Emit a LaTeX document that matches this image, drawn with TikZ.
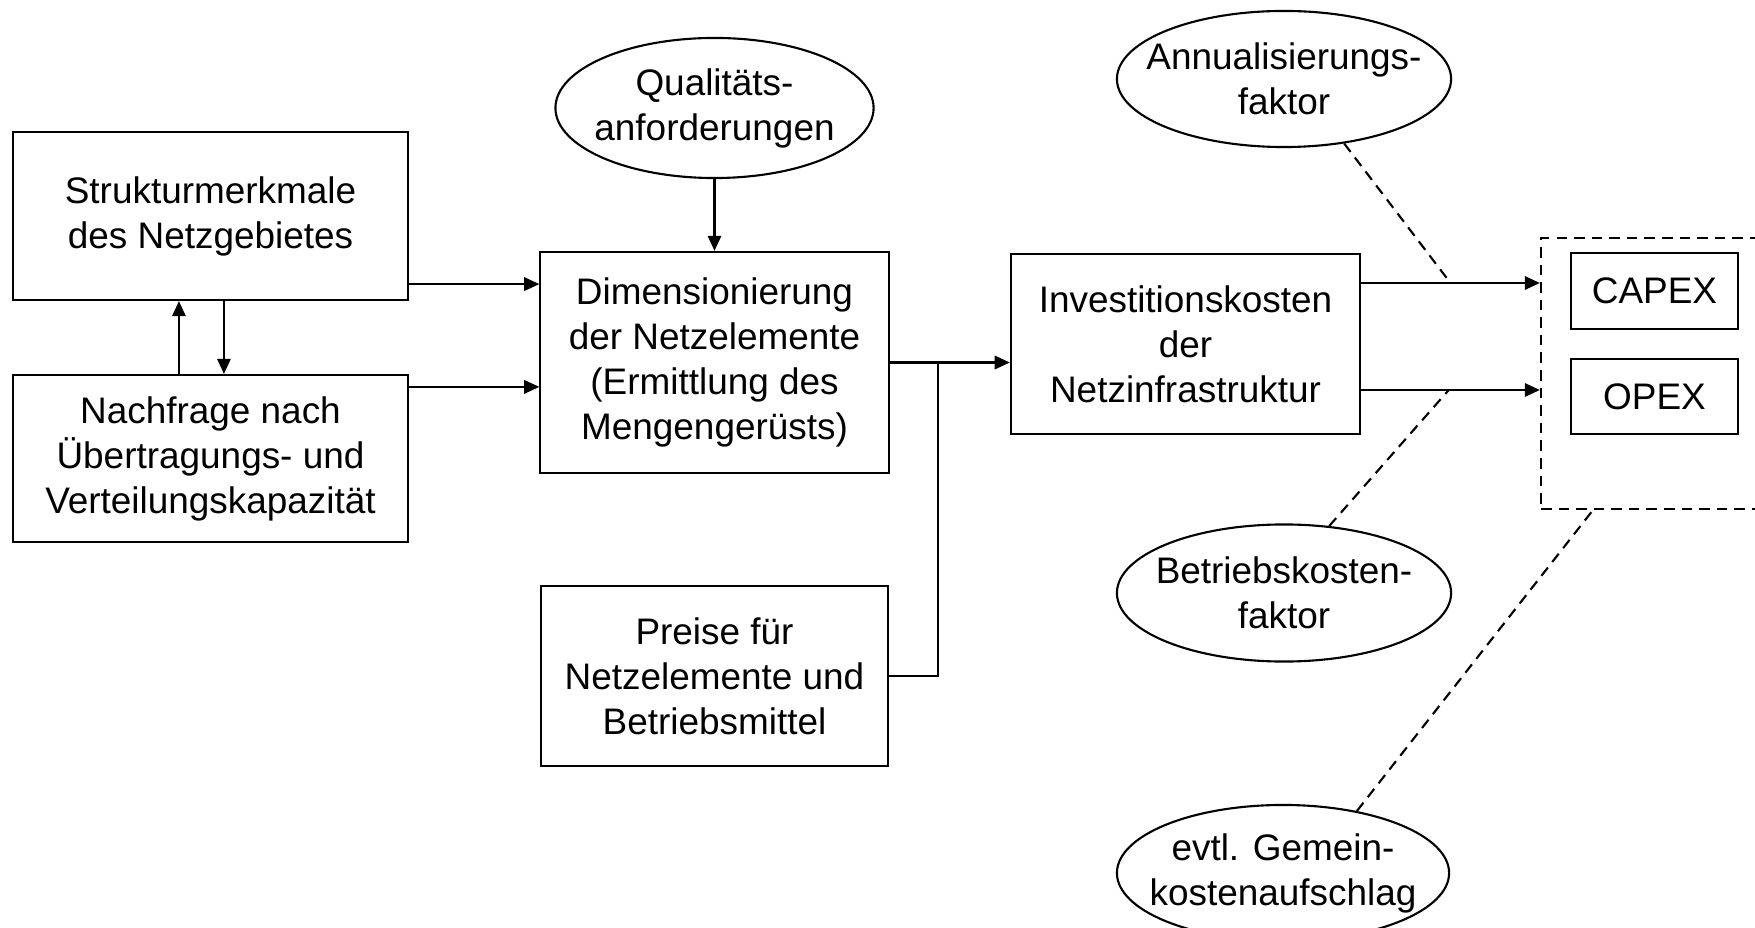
\documentclass[tikz,border=0pt]{standalone}
\usepackage{fontspec}
\setmainfont{Liberation Sans}
\usetikzlibrary{arrows.meta, shapes.geometric, calc}

\tikzset{
  box/.style={draw, line width=0.6pt, align=center, inner sep=0pt},
  oval/.style={draw, ellipse, line width=0.6pt, align=center, inner ysep=0pt, inner xsep=-0.2cm},
  arr/.style={line width=0.6pt, -{Triangle[length=4.3pt,width=3.8pt]}},
  dline/.style={line width=0.6pt, dash pattern=on 3pt off 2pt},
}

\begin{document}
\begin{tikzpicture}[x=0.01cm, y=-0.01cm, font=\fontsize{10.5}{12.8}\selectfont]
    \useasboundingbox (0,0) rectangle (1755,928);
    \clip (0,0) rectangle (1755,928);
    % left column
    \node[box, minimum width=3.95cm, minimum height=1.68cm] (struktur) at (210.5,216) {Strukturmerkmale\\des Netzgebietes};
    \node[box, minimum width=3.95cm, minimum height=1.67cm] (nachfrage) at (210.5,458.5) {Nachfrage nach\\Übertragungs- und\\Verteilungskapazität};
    % middle column
    \node[oval, minimum width=3.18cm, minimum height=1.40cm] (quali) at (714.5,108) {Qualitäts-\\anforderungen};
    \node[box, minimum width=3.48cm, minimum height=2.21cm] (dim) at (714.5,362.5) {Dimensionierung\\der Netzelemente\\(Ermittlung des\\Mengengerüsts)};
    \node[box, minimum width=3.46cm, minimum height=1.80cm] (preise) at (714.5,676) {Preise für\\Netzelemente und\\Betriebsmittel};
    % costs
    \node[box, minimum width=3.49cm, minimum height=1.80cm] (invest) at (1185.5,344) {Investitionskosten\\der\\Netzinfrastruktur};
    \node[dline, draw, minimum width=2.29cm, minimum height=2.71cm] (kosten) at (1655.5,373.5) {};
    \node[box, minimum width=1.67cm, minimum height=0.76cm] (capex) at (1654.5,291) {CAPEX};
    \node[box, minimum width=1.67cm, minimum height=0.75cm] (opex) at (1654.5,396.5) {OPEX};
    \node[oval, minimum width=3.34cm, minimum height=1.36cm] (annual) at (1284,79) {Annualisierungs-\\faktor};
    \node[oval, minimum width=3.34cm, minimum height=1.37cm] (betrieb) at (1284,593) {Betriebskosten-\\faktor};
    \node[oval, minimum width=3.32cm, minimum height=1.36cm] (gemein) at (1283,873) {evtl. Gemein-\\kostenaufschlag};

    % arrows on the left
    \coordinate (s1) at ([yshift=0.17cm]struktur.south east);
    \coordinate (n1) at ([yshift=-0.13cm]nachfrage.north east);
    \draw[arr] (s1) -- (s1 -| dim.west);
    \draw[arr] (n1) -- (n1 -| dim.west);
    \draw[arr] ([xshift=1.67cm]nachfrage.north west) -- ([xshift=1.67cm]struktur.south west);
    \draw[arr] ([xshift=2.12cm]struktur.south west) -- ([xshift=2.12cm]nachfrage.north west);
    \draw[arr] (quali.south) -- (dim.north);
    % into the investment costs
    \coordinate (junc) at ([xshift=0.48cm]dim.east);
    \draw[arr] (dim.east) -- (dim.east -| invest.west);
    \draw[line width=0.6pt] (preise.east) -| (junc);
    % CAPEX and OPEX
    \coordinate (c1) at ([yshift=0.08cm]capex.west);
    \coordinate (o1) at ([yshift=0.065cm]opex.west);
    \draw[arr] (c1 -| invest.east) -- (c1 -| kosten.west);
    \draw[arr] (o1 -| invest.east) -- (o1 -| kosten.west);
    \coordinate (c2) at ($(c1 -| invest.east)!0.5!(c1 -| kosten.west)$);
    \coordinate (o2) at ($(o1 -| invest.east)!0.49!(o1 -| kosten.west)$);
    \coordinate (k1) at ([xshift=0.53cm]kosten.south west);
    \draw[dline] (annual.313) -- (c2);
    \draw[dline] (betrieb.56) -- (o2);
    \draw[dline] (gemein.40) -- (k1);
\end{tikzpicture}
\end{document}
